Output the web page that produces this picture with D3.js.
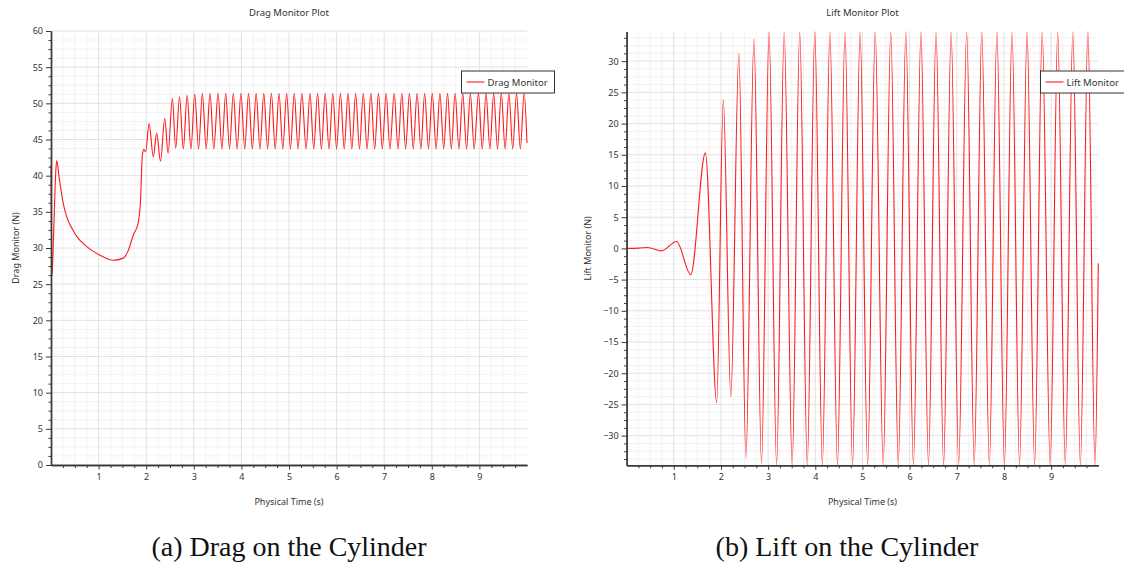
<!DOCTYPE html>
<html>
<head>
<meta charset="utf-8">
<script src="https://cdn.jsdelivr.net/npm/d3@7"></script>
<style>
body { margin: 0; background: #fff; }
svg text { font-family: "Noto Sans", sans-serif; fill: #333; }
.caption { font-family: "Liberation Serif", serif; fill: #111; }
</style>
</head>
<body>
<svg id="chart" width="1124" height="566"></svg>
<script>
// drag monitor (time in s, force in N)
const dragTime = [0, 0.02, 0.06, 0.10, 0.12, 0.17, 0.25, 0.33, 0.45, 0.54, 0.75, 1.03, 1.31, 1.52, 1.62, 1.73, 1.83, 1.88, 1.92, 1.95, 1.99,
  2.06, 2.15, 2.22, 2.30, 2.39, 2.46, 2.55, 2.62, 2.70, 2.78, 2.86, 2.94, 3.02, 3.10, 3.18, 3.26, 3.34, 3.42, 3.51, 3.59,
  3.67, 3.75, 3.83, 3.91, 3.99, 4.07, 4.15, 4.23, 4.31, 4.39, 4.47, 4.55, 4.63, 4.71, 4.79, 4.87, 4.95, 5.03, 5.11, 5.19,
  5.27, 5.36, 5.44, 5.52, 5.60, 5.68, 5.76, 5.84, 5.92, 6.00, 6.08, 6.16, 6.24, 6.32, 6.40, 6.48, 6.56, 6.64, 6.72, 6.80,
  6.88, 6.96, 7.04, 7.12, 7.21, 7.29, 7.37, 7.45, 7.53, 7.61, 7.69, 7.77, 7.85, 7.93, 8.01, 8.09, 8.17, 8.25, 8.33, 8.41,
  8.49, 8.57, 8.65, 8.73, 8.81, 8.89, 8.98, 9.06, 9.14, 9.22, 9.30, 9.38, 9.46, 9.54, 9.62, 9.70, 9.78, 9.86, 9.94, 10.0];
const dragValue = [41.5, 26.1, 33.0, 40.5, 42.1, 39.8, 36.4, 34.3, 32.6, 31.6, 30.2, 29.0, 28.3, 28.6, 29.6, 31.8, 33.4, 36.5, 42.9, 43.6, 43.3,
  47.2, 42.6, 45.9, 42.0, 47.9, 43.1, 50.7, 43.8, 50.9, 43.7, 51.1, 43.7, 51.3, 43.7, 51.4, 43.7, 51.4, 43.7, 51.4, 43.7,
  51.4, 43.7, 51.4, 43.7, 51.4, 43.7, 51.4, 43.7, 51.4, 43.7, 51.4, 43.7, 51.4, 43.7, 51.4, 43.7, 51.4, 43.7, 51.4, 43.7,
  51.4, 43.7, 51.4, 43.7, 51.4, 43.7, 51.4, 43.7, 51.4, 43.7, 51.4, 43.7, 51.4, 43.7, 51.4, 43.7, 51.4, 43.7, 51.4, 43.7,
  51.4, 43.7, 51.4, 43.7, 51.4, 43.7, 51.4, 43.7, 51.4, 43.7, 51.4, 43.7, 51.4, 43.7, 51.4, 43.7, 51.4, 43.7, 51.4, 43.7,
  51.4, 43.7, 51.4, 43.7, 51.4, 43.7, 51.4, 43.7, 51.4, 43.7, 51.4, 43.7, 51.4, 43.7, 51.4, 43.7, 51.4, 43.7, 51.4, 44.5];

// lift monitor
const liftTime = [0, 0.25, 0.45, 0.74, 1.06, 1.36, 1.67, 1.91, 2.05, 2.21, 2.38, 2.53, 2.70, 2.86, 3.02, 3.18, 3.34, 3.51,
  3.67, 3.83, 3.99, 4.15, 4.31, 4.47, 4.63, 4.79, 4.95, 5.11, 5.27, 5.44, 5.60, 5.76, 5.92, 6.08, 6.24, 6.40, 6.56, 6.72,
  6.88, 7.04, 7.21, 7.37, 7.53, 7.69, 7.85, 8.01, 8.17, 8.33, 8.49, 8.65, 8.81, 8.98, 9.14, 9.30, 9.46, 9.62, 9.78, 9.93, 10.0];
const liftValue = [0, 0.05, 0.15, -0.4, 1.1, -4.2, 15.3, -24.7, 23.8, -23.8, 31.3, -33.6, 33.6, -34.5, 34.7, -34.7, 34.7, -34.7,
  34.7, -34.7, 34.7, -34.7, 34.7, -34.7, 34.7, -34.7, 34.7, -34.7, 34.7, -34.7, 34.7, -34.7, 34.7, -34.7, 34.7, -34.7, 34.7, -34.7,
  34.7, -34.7, 34.7, -34.7, 34.7, -34.7, 34.7, -34.7, 34.7, -34.7, 34.7, -34.7, 34.7, -34.7, 34.7, -34.7, 34.7, -34.7, 34.7, -34.7, -2.4];

// tick labels
const timeTicks = [1, 2, 3, 4, 5, 6, 7, 8, 9];
const dragTicks = [0, 5, 10, 15, 20, 25, 30, 35, 40, 45, 50, 55, 60];
const liftTicks = [-30, -25, -20, -15, -10, -5, 0, 5, 10, 15, 20, 25, 30];

const svg = d3.select('#chart');

const drawPanel = (cfg) => {
  const x = d3.scaleLinear().domain([0, 10]).range([cfg.left, cfg.right]);
  const y = d3.scaleLinear().domain(cfg.yDomain).range([cfg.bottom, cfg.top]);
  const g = svg.append('g');

  // minor grid (0.25 s / 1.25 N)
  const xMinor = d3.range(0.25, 10, 0.25).filter(t => Math.abs(t - Math.round(t)) > 1e-6);
  const yMinor = d3.range(Math.ceil(cfg.yDomain[0] / 1.25) * 1.25, cfg.yDomain[1], 1.25)
    .filter(v => Math.abs(v / 5 - Math.round(v / 5)) > 1e-6);

  g.selectAll('.vminor').data(xMinor).enter().append('line')
    .attr('x1', d => x(d)).attr('x2', d => x(d))
    .attr('y1', cfg.top).attr('y2', cfg.bottom)
    .attr('stroke', '#f3f3f3');
  g.selectAll('.hminor').data(yMinor).enter().append('line')
    .attr('x1', cfg.left).attr('x2', cfg.right)
    .attr('y1', d => y(d)).attr('y2', d => y(d))
    .attr('stroke', '#f3f3f3');
  // major grid
  g.selectAll('.vmajor').data(timeTicks).enter().append('line')
    .attr('x1', d => x(d)).attr('x2', d => x(d))
    .attr('y1', cfg.top).attr('y2', cfg.bottom)
    .attr('stroke', '#e2e2e2');
  g.selectAll('.hmajor').data(cfg.yTicks.filter(v => y(v) >= cfg.top - 0.5)).enter().append('line')
    .attr('x1', cfg.left).attr('x2', cfg.right)
    .attr('y1', d => y(d)).attr('y2', d => y(d))
    .attr('stroke', '#e2e2e2');

  // the curve
  const line = d3.line()
    .x((d, i) => x(cfg.time[i]))
    .y(d => y(d))
    .curve(d3.curveMonotoneX);
  g.append('path')
    .attr('d', line(cfg.values))
    .attr('fill', 'none')
    .attr('stroke', '#ff1a1a')
    .attr('stroke-width', 1.1);

  // axes: minor ticks first, then major ticks with labels
  const yMinorAxis = d3.axisLeft(y).tickValues(yMinor).tickSize(2.5).tickSizeOuter(0).tickFormat('');
  const yAxis = d3.axisLeft(y).tickValues(cfg.yTicks).tickSize(5).tickSizeOuter(0).tickPadding(3);
  const xMinorAxis = d3.axisBottom(x).tickValues(xMinor).tickSize(3).tickSizeOuter(0).tickFormat('');
  const xAxis = d3.axisBottom(x).tickValues(timeTicks).tickSize(4.5).tickSizeOuter(0).tickPadding(4);

  [ [yMinorAxis, `translate(${cfg.left},0)`], [yAxis, `translate(${cfg.left},0)`],
    [xMinorAxis, `translate(0,${cfg.bottom})`], [xAxis, `translate(0,${cfg.bottom})`] ].forEach(([ax, tr]) => {
    const a = g.append('g').attr('transform', tr).call(ax);
    a.select('.domain').attr('stroke', '#3a3a3a').attr('stroke-width', 1.4);
    a.selectAll('.tick line').attr('stroke', '#3a3a3a');
    a.selectAll('.tick text').attr('font-size', 9).attr('fill', '#333');
  });

  const cx = (cfg.left + cfg.right) / 2;
  g.append('text').attr('x', cx).attr('y', 16).attr('text-anchor', 'middle')
    .attr('font-size', 9.5).text(cfg.title);
  g.append('text').attr('x', cx).attr('y', 505).attr('text-anchor', 'middle')
    .attr('font-size', 9).text('Physical Time (s)');
  g.append('text')
    .attr('transform', `translate(${cfg.labelX},${(cfg.top + cfg.bottom) / 2}) rotate(-90)`)
    .attr('text-anchor', 'middle').attr('font-size', 9).text(cfg.yLabel);

  // legend
  const lg = g.append('g').attr('transform', `translate(${cfg.legendX},71)`);
  lg.append('rect').attr('width', cfg.legendW).attr('height', 22)
    .attr('fill', '#fff').attr('stroke', '#333').attr('stroke-width', 1);
  lg.append('line').attr('x1', 5).attr('x2', 23).attr('y1', 11).attr('y2', 11)
    .attr('stroke', '#ff1a1a').attr('stroke-width', 1.1);
  lg.append('text').attr('x', 26).attr('y', 14.5).attr('font-size', 9.5).text(cfg.legend);

  // caption below
  svg.append('text').attr('class', 'caption')
    .attr('x', cfg.captionX).attr('y', 556).attr('text-anchor', 'middle')
    .attr('font-size', 28).text(cfg.caption);
};

drawPanel({
  left: 51, right: 527, top: 31, bottom: 465,
  yDomain: [0, 60], yTicks: dragTicks,
  time: dragTime, values: dragValue,
  title: 'Drag Monitor Plot', yLabel: 'Drag Monitor (N)', legend: 'Drag Monitor',
  labelX: 18.5, legendX: 461.5, legendW: 93,
  caption: '(a) Drag on the Cylinder', captionX: 289
});

drawPanel({
  left: 626.6, right: 1098.3, top: 31.5, bottom: 465.3,
  yDomain: [-34.75, 34.75], yTicks: liftTicks,
  time: liftTime, values: liftValue,
  title: 'Lift Monitor Plot', yLabel: 'Lift Monitor (N)', legend: 'Lift Monitor',
  labelX: 591, legendX: 1040.5, legendW: 84,
  caption: '(b) Lift on the Cylinder', captionX: 847
});
</script>
</body>
</html>
